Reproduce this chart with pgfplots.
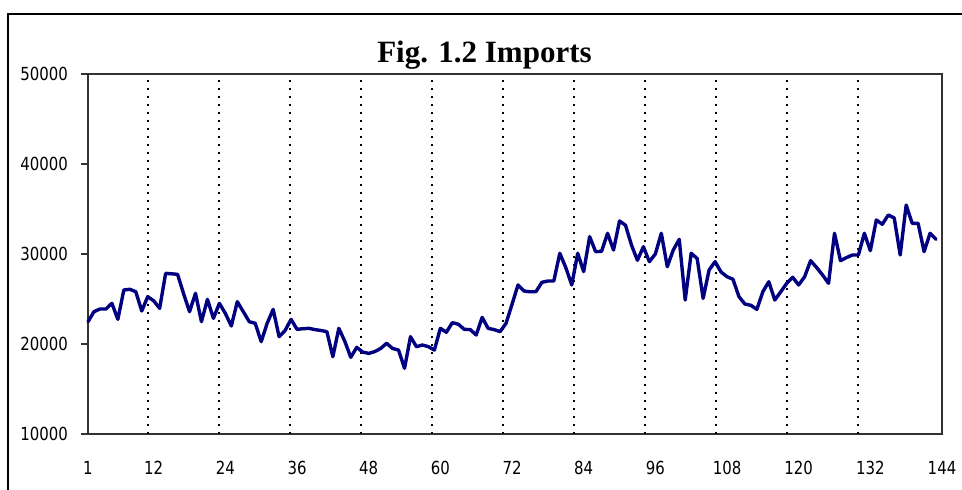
\documentclass[border=0pt]{standalone}
\usepackage{pgfplots}
\pgfplotsset{compat=1.18}
\usepackage{graphicx}
\usepackage{fontspec}
\newfontfamily\tickfont{DejaVu Sans}
\newfontfamily\titlefont{Liberation Serif}
\definecolor{navyline}{RGB}{0,0,128}
\definecolor{framegray}{RGB}{50,50,50}
\begin{document}
\begin{tikzpicture}
\useasboundingbox (0pt,0pt) rectangle (962pt,490pt);
\fill[white] (0pt,0pt) rectangle (962pt,490pt);
\draw[line width=2pt, black] (7.5pt,0pt) -- (7.5pt,476pt) -- (962pt,476pt);
\node[anchor=base, inner sep=0pt] at (484.5pt,427pt) {\titlefont\bfseries\fontsize{31}{36}\selectfont Fig. 1.2 Imports};
\begin{axis}[
  at={(88pt,56pt)}, anchor=south west,
  scale only axis, width=854pt, height=360pt,
  xmin=1, xmax=144, ymin=10000, ymax=50000,
  xtick={1,12,24,36,48,60,72,84,96,108,120,132,144},
  ytick={10000,20000,30000,40000,50000},
  scaled y ticks=false,
  /pgf/number format/assume math mode=true,
  /pgf/number format/1000 sep={},
  xticklabel={\scalebox{0.83}[1]{\pgfmathprintnumber{\tick}}},
  yticklabel={\scalebox{0.83}[1]{\pgfmathprintnumber{\tick}}},
  tick label style={font=\tickfont\fontsize{18}{20}\selectfont, black},
  tick align=outside,
  major tick length=7pt,
  ytick pos=left, xtick pos=bottom,
  xtick style={draw=none},
  ytick style={line width=2pt, framegray},
  axis line style={line width=2pt, framegray},
  yticklabel style={anchor=east, inner sep=0pt, xshift=-13pt},
  xticklabel style={anchor=north, inner sep=0pt, yshift=-20pt},
  extra x ticks={11.05,22.94,34.83,46.72,58.61,70.50,82.39,94.28,106.17,118.06,129.95},
  extra x tick labels={},
  extra x tick style={grid=major, tick style={draw=none}},
  major grid style={black, line width=1.5pt, dash pattern=on 1.5pt off 6.5pt},
  clip=false,
]
\addplot[navyline, line width=3.4pt, line join=round, line cap=round] table {
x y
1 22480
2 23590
3 23890
4 23890
5 24520
6 22740
7 26000
8 26080
9 25810
10 23670
11 25260
12 24800
13 23960
14 27850
15 27800
16 27740
17 25600
18 23590
19 25630
20 22480
21 24960
22 22850
23 24520
24 23400
25 22000
26 24700
27 23600
28 22480
29 22300
30 20260
31 22300
32 23850
33 20810
34 21500
35 22740
36 21630
37 21700
38 21740
39 21600
40 21500
41 21370
42 18590
43 21740
44 20300
45 18520
46 19630
47 19100
48 18960
49 19150
50 19500
51 20080
52 19500
53 19330
54 17300
55 20810
56 19700
57 19890
58 19700
59 19330
60 21740
61 21300
62 22370
63 22200
64 21630
65 21600
66 21000
67 22960
68 21740
69 21600
70 21370
71 22300
72 24400
73 26560
74 25890
75 25800
76 25810
77 26850
78 27000
79 27000
80 30080
81 28500
82 26560
83 30080
84 28040
85 31930
86 30260
87 30300
88 32300
89 30440
90 33670
91 33200
92 31000
93 29300
94 30810
95 29150
96 30000
97 32300
98 28590
99 30440
100 31630
101 24890
102 30080
103 29500
104 25070
105 28220
106 29150
107 28000
108 27480
109 27190
110 25260
111 24440
112 24300
113 23850
114 25810
115 26920
116 24890
117 25800
118 26740
119 27410
120 26560
121 27480
122 29260
123 28500
124 27670
125 26740
126 32300
127 29260
128 29600
129 29890
130 29890
131 32300
132 30370
133 33780
134 33300
135 34330
136 34000
137 29890
138 35440
139 33410
140 33410
141 30260
142 32300
143 31630
};
\end{axis}
\end{tikzpicture}
\end{document}
